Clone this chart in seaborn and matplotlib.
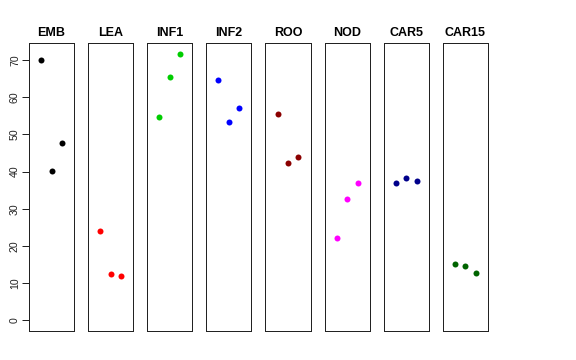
import pandas as pd
import matplotlib
matplotlib.use("Agg")
import matplotlib.pyplot as plt
import seaborn as sns

# panel names and the three values shown in each
groups = ["EMB", "LEA", "INF1", "INF2", "ROO", "NOD", "CAR5", "CAR15"]
emb = [70.0, 40.1, 47.6]
lea = [24.1, 12.4, 11.9]
inf1 = [54.8, 65.5, 71.7]
inf2 = [64.5, 53.4, 57.1]
roo = [55.5, 42.3, 43.9]
nod = [22.2, 32.5, 36.8]
car5 = [36.9, 38.2, 37.5]
car15 = [15.1, 14.5, 12.8]
colors = ["#000000", "#FF0000", "#00CD00", "#0000FF",
          "#8B0000", "#FF00FF", "#00008B", "#006400"]
yticks = [0, 10, 20, 30, 40, 50, 60, 70]

values = [emb, lea, inf1, inf2, roo, nod, car5, car15]
df = pd.DataFrame({
    "group": [g for g, v in zip(groups, values) for _ in v],
    "rep": [i + 1 for v in values for i in range(len(v))],
    "value": [x for v in values for x in v],
})

sns.set_style("white")
plt.rcParams["font.family"] = ["Liberation Sans", "DejaVu Sans"]
plt.rcParams["text.color"] = "black"
plt.rcParams["ytick.color"] = "black"

fig, axes = plt.subplots(1, len(groups), figsize=(8, 5), dpi=72, sharey=True)
fig.subplots_adjust(left=0.0503, right=0.847, top=0.8806, bottom=0.0806, wspace=0.31)

ymax = df["value"].max()
pad = ymax * 0.04
for ax, g, c in zip(axes, groups, colors):
    sub = df[df["group"] == g]
    sns.scatterplot(data=sub, x="rep", y="value", ax=ax, color=c,
                    s=36, linewidth=0, legend=False)
    ax.set_xlim(-0.16, 4.16)
    ax.set_ylim(-pad, ymax + pad)
    ax.set_xticks([])
    ax.set_xlabel("")
    ax.set_ylabel("")
    ax.set_title(g, fontsize=12.5, fontweight="bold", pad=7, color="black")
    for s in ax.spines.values():
        s.set_visible(True)
        s.set_color("#222222")
        s.set_linewidth(1)
    ax.tick_params(axis="y", left=False, labelleft=False)

axes[0].set_yticks(yticks)
axes[0].tick_params(axis="y", left=True, labelleft=True, length=7,
                    width=1, color="#222222", labelcolor="#222222",
                    labelsize=10.5, pad=2, labelrotation=90)
for lbl in axes[0].get_yticklabels():
    lbl.set_va("center")

fig.savefig("out.png", dpi=72)
